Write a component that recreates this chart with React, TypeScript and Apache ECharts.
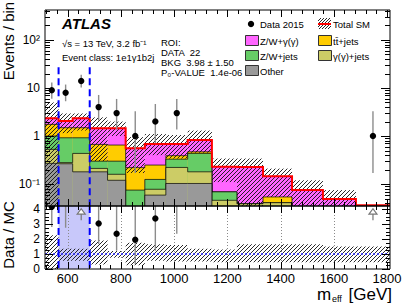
import React, { useEffect, useRef } from 'react';
import * as echarts from 'echarts';

const FONT = '"Liberation Sans", Arial, Helvetica, sans-serif';

// ---------------- data ----------------
const binEdges = [515, 566, 619, 683, 750, 818, 890, 969, 1051, 1142, 1236, 1334, 1443, 1559, 1683, 1811];
// stack components, bottom to top
const otherBkg = [0.27, 0.265, 0.18, 0.18, 0.12, 0, 0.059, 0.103, 0.103, 0, 0, 0, 0, 0, 0];
const gammaJets = [0.258, 0.015, 0.255, 0.032, 0.04, 0, 0.019, 0.119, 0.077, 0.046, 0.039, 0.041, 0, 0, 0];
const zwJets = [0.472, 0.64, 0.485, 0.088, 0.14, 0.075, 0.047, 0.108, 0.255, 0.023, 0, 0, 0, 0, 0];
const ttJets = [0.75, 0.57, 0.57, 0.37, 0.35, 0.145, 0.124, 0.06, 0.035, 0, 0, 0.013, 0, 0, 0];
const zwGamma = [0.59, 0.57, 0.85, 0.78, 0.8, 0.34, 0.431, 0.29, 0.356, 0.161, 0.189, 0.091, 0.075, 0.049, 0];
// total SM uncertainty band (main panel)
const bandHi = [5.0, 2.95, 2.95, 2.45, 2.0, 0.95, 1.1, 1.05, 1.3, 0.34, 0.34, 0.21, 0.12, 0.075, 0];
const bandLo = [0, 1.15, 1.3, 0.3, 1.0, 0.17, 0.4, 0.34, 0.45, 0.11, 0, 0.054, 0, 0, 0];
// data
const dataCounts = [9, 8, 14, 4, 3, 1, 2, 3, 0, 0, 0, 0, 0, 0, 1];
const dataErrLo = [6.0, 5.3, 10.3, 2.09, 1.37, 0.17, 0.71, 1.37, 0, 0, 0, 0, 0, 0, 0.17];
const dataErrHi = [13.0, 11.8, 18.8, 7.16, 5.92, 3.3, 4.64, 5.92, 0, 0, 0, 0, 0, 0, 3.3];
// ratio panel
const ratioVals: (number | null)[] = [4.15, 4.6, 6.0, 3.03, 2.35, 1.95, 3.37, 4.5, null, null, null, null, null, null, null];
const ratioErrLo = [2.8, 2.75, 4.4, 1.67, 1.22, 0.32, 1.22, 2.35, 0, 0, 0, 0, 0, 0, 0];
const ratioErrHi = [6, 6, 8, 5, 4.6, 5, 5, 6, 0, 0, 0, 0, 0, 0, 0];
const ratioArrowBins = [2, 14];
const ratioBandHi = [2.25, 1.35, 1.35, 1.9, 1.2, 1.75, 1.65, 1.6, 1.35, 1.3, 1.65, 1.65, 1.65, 1.5, 1.5];
const ratioBandLo = [0, 0.55, 0.55, 0.3, 0.75, 0.25, 0.55, 0.5, 0.5, 0.45, 0.45, 0.45, 0.45, 0.45, 0.45];
const roiEdges = [566, 683];
const roiLineTop = 27;
const xLabelTicks = [600, 800, 1000, 1200, 1400, 1600, 1800];

const X_MIN = 515, X_MAX = 1811;
const Y_MIN = 0.035, Y_MAX = 420;
const R_MIN = 0, R_MAX = 4.2;

const COLORS = ['#999999', '#cccc66', '#66cc66', '#ffcc00', '#ff66ff'];
const EDGE = 'rgba(0,0,0,0.7)';

function hatchLines(x0: number, x1: number, y0: number, y1: number, step: number, stroke: string, lw: number) {
  const out: any[] = [];
  if (x1 <= x0 || y1 <= y0) return out;
  const cStart = Math.ceil((x0 + y0) / step) * step;
  for (let c = cStart; c <= x1 + y1; c += step) {
    const xs = Math.max(x0, c - y1);
    const xe = Math.min(x1, c - y0);
    if (xe > xs) out.push({ type: 'line', shape: { x1: xs, y1: c - xs, x2: xe, y2: c - xe }, style: { stroke, lineWidth: lw } });
  }
  return out;
}

function stepPts(vals: number[], X: (v: number) => number, Yf: (v: number) => number) {
  const pts: number[][] = [];
  for (let i = 0; i < vals.length; i++) {
    const y = Yf(vals[i]);
    pts.push([X(binEdges[i]), y], [X(binEdges[i + 1]), y]);
  }
  return pts;
}

function xTicks() {
  const t: { v: number; major: boolean }[] = [];
  for (let v = 520; v <= X_MAX; v += 40) t.push({ v, major: v % 200 === 0 });
  return t;
}

function renderMain(params: any, api: any) {
  const cs = params.coordSys;
  const top = cs.y, bottom = cs.y + cs.height;
  const X = (v: number) => api.coord([v, 1])[0];
  const Y = (v: number) => api.coord([1000, Math.max(v, 1e-3)])[1];
  const nb = binEdges.length - 1;
  const layers = [otherBkg, gammaJets, zwJets, ttJets, zwGamma];
  const cum: number[][] = [];
  let run = new Array(nb).fill(0);
  layers.forEach((arr) => { run = run.map((r, i) => r + arr[i]); cum.push(run.slice()); });
  const ch: any[] = [];
  for (let k = layers.length - 1; k >= 0; k--) {
    for (let i = 0; i < nb; i++) {
      const v = cum[k][i];
      if (v <= 0) continue;
      const x0 = X(binEdges[i]), x1 = X(binEdges[i + 1]);
      const yt = Math.max(Y(v), top - 5);
      if (yt >= bottom) continue;
      ch.push({ type: 'rect', shape: { x: x0, y: yt, width: x1 - x0, height: bottom - yt + 2 }, style: { fill: COLORS[k] } });
    }
    if (k < layers.length - 1) {
      ch.push({ type: 'polyline', shape: { points: stepPts(cum[k], X, (v) => Math.min(Y(v), bottom + 3)) }, style: { stroke: EDGE, lineWidth: 1, fill: null } });
    }
  }
  // uncertainty hatch
  for (let i = 0; i < nb; i++) {
    if (bandHi[i] <= 0) continue;
    const x0 = X(binEdges[i]), x1 = X(binEdges[i + 1]);
    const y0 = Math.max(Y(bandHi[i]), top);
    const y1 = Math.min(Y(bandLo[i]), bottom);
    ch.push(...hatchLines(x0, x1, y0, y1, 4, '#111', 0.9));
  }
  // total SM line
  ch.push({ type: 'polyline', shape: { points: stepPts(cum[4], X, (v) => Y(Math.max(v, Y_MIN * 1.04))) }, style: { stroke: '#ff0000', lineWidth: 2, fill: null } });
  // ROI lines
  roiEdges.forEach((e) => {
    ch.push({ type: 'line', shape: { x1: X(e), y1: Y(roiLineTop), x2: X(e), y2: bottom }, style: { stroke: '#0000ff', lineWidth: 2, lineDash: [7, 4] } });
  });
  // data
  for (let i = 0; i < nb; i++) {
    if (dataCounts[i] <= 0) continue;
    const xc = X((binEdges[i] + binEdges[i + 1]) / 2);
    ch.push({ type: 'line', shape: { x1: xc, y1: Y(dataErrHi[i]), x2: xc, y2: Y(dataErrLo[i]) }, style: { stroke: '#8c8c8c', lineWidth: 1.4 } });
    ch.push({ type: 'circle', shape: { cx: xc, cy: Y(dataCounts[i]), r: 3.2 }, style: { fill: '#000' } });
  }
  return { type: 'group', children: ch };
}

function renderMainFrame(params: any, api: any) {
  const cs = params.coordSys;
  const left = cs.x, top = cs.y, right = cs.x + cs.width, bottom = cs.y + cs.height;
  const X = (v: number) => api.coord([v, 1])[0];
  const Y = (v: number) => api.coord([1000, v])[1];
  const ch: any[] = [];
  const st = { stroke: '#000', lineWidth: 1 };
  xTicks().forEach(({ v, major }) => {
    const x = Math.round(X(v)) + 0.5;
    const len = major ? 7 : 4;
    ch.push({ type: 'line', shape: { x1: x, y1: bottom, x2: x, y2: bottom - len }, style: st });
    ch.push({ type: 'line', shape: { x1: x, y1: top, x2: x, y2: top + len }, style: st });
  });
  for (let e = -2; e <= 3; e++) {
    for (let d = 1; d <= 9; d++) {
      const v = d * Math.pow(10, e);
      if (v <= Y_MIN || v >= Y_MAX) continue;
      const y = Math.round(Y(v)) + 0.5;
      const len = d === 1 ? 9 : 5;
      ch.push({ type: 'line', shape: { x1: left, y1: y, x2: left + len, y2: y }, style: st });
      ch.push({ type: 'line', shape: { x1: right, y1: y, x2: right - len, y2: y }, style: st });
    }
  }
  ch.push({ type: 'rect', shape: { x: left, y: top, width: right - left, height: bottom - top }, style: { fill: null, stroke: '#000', lineWidth: 1 } });
  return { type: 'group', children: ch };
}

function renderRatio(params: any, api: any) {
  const cs = params.coordSys;
  const left = cs.x, top = cs.y, right = cs.x + cs.width, bottom = cs.y + cs.height;
  const X = (v: number) => api.coord([v, 1])[0];
  const Y = (v: number) => api.coord([1000, v])[1];
  const nb = binEdges.length - 1;
  const ch: any[] = [];
  ch.push({ type: 'rect', shape: { x: X(roiEdges[0]), y: top, width: X(roiEdges[1]) - X(roiEdges[0]), height: bottom - top }, style: { fill: '#c8c8fa' } });
  xLabelTicks.forEach((v) => {
    if (v >= X_MAX - 20) return;
    const x = Math.round(X(v)) + 0.5;
    ch.push({ type: 'line', shape: { x1: x, y1: top, x2: x, y2: bottom }, style: { stroke: '#8a8a8a', lineWidth: 1, lineDash: [1, 2] } });
  });
  for (let i = 0; i < nb; i++) {
    const x0 = X(binEdges[i]), x1 = X(binEdges[i + 1]);
    const y0 = Math.max(Y(ratioBandHi[i]), top);
    const y1 = Math.min(Y(ratioBandLo[i]), bottom);
    ch.push(...hatchLines(x0, x1, y0, y1, 4, '#111', 0.9));
  }
  ch.push({ type: 'line', shape: { x1: left, y1: Y(1), x2: right, y2: Y(1) }, style: { stroke: '#2a2aff', lineWidth: 1.6, lineDash: [2, 2] } });
  roiEdges.forEach((e) => {
    ch.push({ type: 'line', shape: { x1: X(e), y1: top, x2: X(e), y2: bottom }, style: { stroke: '#0000ff', lineWidth: 2, lineDash: [7, 4] } });
  });
  for (let i = 0; i < nb; i++) {
    const v = ratioVals[i];
    if (v === null) continue;
    const xc = X((binEdges[i] + binEdges[i + 1]) / 2);
    if (ratioErrLo[i] < R_MAX) {
      ch.push({ type: 'line', shape: { x1: xc, y1: Y(Math.min(ratioErrHi[i], R_MAX + 0.3)), x2: xc, y2: Y(ratioErrLo[i]) }, style: { stroke: '#8c8c8c', lineWidth: 1.4 } });
    }
    if (v < R_MAX + 0.1) ch.push({ type: 'circle', shape: { cx: xc, cy: Y(v), r: 3.2 }, style: { fill: '#000' } });
  }
  ratioArrowBins.forEach((i) => {
    const xc = X((binEdges[i] + binEdges[i + 1]) / 2);
    ch.push({ type: 'line', shape: { x1: xc, y1: Y(3.25), x2: xc, y2: Y(3.66) }, style: { stroke: '#777', lineWidth: 1.2 } });
    ch.push({ type: 'polygon', shape: { points: [[xc - 4, Y(3.66)], [xc + 4, Y(3.66)], [xc, Y(4.02)]] }, style: { fill: '#fff', stroke: '#777', lineWidth: 1.2 } });
  });
  return { type: 'group', children: ch };
}

function renderRatioFrame(params: any, api: any) {
  const cs = params.coordSys;
  const left = cs.x, top = cs.y, right = cs.x + cs.width, bottom = cs.y + cs.height;
  const X = (v: number) => api.coord([v, 1])[0];
  const Y = (v: number) => api.coord([1000, v])[1];
  const ch: any[] = [];
  const st = { stroke: '#000', lineWidth: 1 };
  xTicks().forEach(({ v, major }) => {
    const x = Math.round(X(v)) + 0.5;
    const len = major ? 7 : 4;
    ch.push({ type: 'line', shape: { x1: x, y1: bottom, x2: x, y2: bottom - len }, style: st });
    ch.push({ type: 'line', shape: { x1: x, y1: top, x2: x, y2: top + len }, style: st });
  });
  for (let k = 0; k * 0.25 <= R_MAX; k++) {
    const v = k * 0.25;
    const y = Math.round(Y(v)) + 0.5;
    const len = k % 4 === 0 ? 8 : 4;
    ch.push({ type: 'line', shape: { x1: left, y1: y, x2: left + len, y2: y }, style: st });
    ch.push({ type: 'line', shape: { x1: right, y1: y, x2: right - len, y2: y }, style: st });
  }
  ch.push({ type: 'rect', shape: { x: left, y: top, width: right - left, height: bottom - top }, style: { fill: null, stroke: '#000', lineWidth: 1 } });
  return { type: 'group', children: ch };
}

const txt = (text: string, x: number, y: number, size: number, extra: any = {}) => ({
  type: 'text', x, y, z: 100,
  style: { text, fill: '#000', font: `${extra.weight || 'normal'} ${size}px ${FONT}`, textAlign: extra.align || 'left', textVerticalAlign: 'middle', ...(extra.style || {}) },
  ...(extra.el || {}),
});

const legendBoxes = [
  { label: 'Z/W+γ(γ)', color: '#ff66ff', x: 245, y: 35 },
  { label: 'tt̄+jets', color: '#ffcc00', x: 318, y: 35 },
  { label: 'Z/W+jets', color: '#66cc66', x: 245, y: 50 },
  { label: 'γ(γ)+jets', color: '#cccc66', x: 318, y: 50 },
  { label: 'Other', color: '#999999', x: 245, y: 65 },
];

function buildGraphic() {
  const g: any[] = [];
  g.push({ type: 'text', x: 62, y: 23, z: 100, style: { text: 'ATLAS', fill: '#000', font: `italic bold 15px ${FONT}`, textAlign: 'left', textVerticalAlign: 'middle' } });
  g.push(txt('√s = 13 TeV, 3.2 fb⁻¹', 62, 43, 9.5));
  g.push(txt('Event class: 1e1γ1b2j', 62, 57, 9.5));
  g.push(txt('ROI:', 161, 42, 9.5));
  g.push(txt('DATA  22', 161, 52, 9.5));
  g.push(txt('BKG  3.98 ± 1.50', 161, 62, 9.5));
  g.push(txt('P₀-VALUE  1.4e-06', 161, 72, 9.5));
  // legend
  g.push({ type: 'circle', z: 100, shape: { cx: 251, cy: 24, r: 3.2 }, style: { fill: '#000' } });
  g.push(txt('Data 2015', 260, 24, 9.5));
  const hl = hatchLines(318, 331, 18, 29, 3, '#111', 0.9).map((h) => ({ ...h, z: 100 }));
  g.push(...hl);
  g.push({ type: 'line', z: 101, shape: { x1: 318, y1: 24, x2: 331, y2: 24 }, style: { stroke: '#ff0000', lineWidth: 2 } });
  g.push(txt('Total SM', 333, 24, 9.5));
  legendBoxes.forEach((b) => {
    g.push({ type: 'rect', z: 100, shape: { x: b.x + 0.5, y: b.y + 0.5, width: 13, height: 10 }, style: { fill: b.color, stroke: '#333', lineWidth: 1 } });
    g.push(txt(b.label, b.x + 15, b.y + 6, 9.5));
  });
  // axis titles
  g.push({ type: 'text', x: 8, y: 41, rotation: Math.PI / 2, z: 100, style: { text: 'Events / bin', fill: '#000', font: `15px ${FONT}`, textAlign: 'center', textVerticalAlign: 'middle' } });
  g.push({ type: 'text', x: 8, y: 235, rotation: Math.PI / 2, z: 100, style: { text: 'Data / MC', fill: '#000', font: `15px ${FONT}`, textAlign: 'center', textVerticalAlign: 'middle' } });
  g.push(txt('m', 317, 294, 17));
  g.push(txt('eff', 332, 299, 9));
  g.push(txt('[GeV]', 392, 294, 17, { align: 'right' }));
  return g;
}

const logLabels: Record<string, string> = { '-1': '10⁻¹', '0': '1', '1': '10', '2': '10²' };

const option: any = {
  animation: false,
  backgroundColor: '#fff',
  textStyle: { fontFamily: FONT },
  grid: [
    { left: 45, top: 10, width: 345, height: 196 },
    { left: 45, top: 206, width: 345, height: 63 },
  ],
  xAxis: [
    { gridIndex: 0, type: 'value', min: X_MIN, max: X_MAX, splitNumber: 6, axisLine: { show: false }, axisTick: { show: false }, axisLabel: { show: false }, splitLine: { show: false } },
    {
      gridIndex: 1, type: 'value', min: X_MIN, max: X_MAX, splitNumber: 6, axisLine: { show: false }, axisTick: { show: false }, splitLine: { show: false },
      axisLabel: { margin: 3, fontSize: 13, color: '#000', fontFamily: FONT, showMinLabel: false, showMaxLabel: false, formatter: (v: number) => (xLabelTicks.indexOf(Math.round(v)) >= 0 && Math.abs(v - Math.round(v)) < 1e-6 ? String(Math.round(v)) : '') },
    },
  ],
  yAxis: [
    {
      gridIndex: 0, type: 'log', logBase: 10, min: Y_MIN, max: Y_MAX, axisLine: { show: false }, axisTick: { show: false }, splitLine: { show: false },
      axisLabel: {
        margin: 5, fontSize: 12, color: '#000', fontFamily: FONT,
        formatter: (v: number) => { const e = Math.log10(v); const r = Math.round(e); if (Math.abs(e - r) > 1e-6) return ''; return logLabels[String(r)] || ''; },
      },
    },
    {
      gridIndex: 1, type: 'value', min: R_MIN, max: R_MAX, interval: 1, axisLine: { show: false }, axisTick: { show: false }, splitLine: { show: false },
      axisLabel: { margin: 5, fontSize: 12, color: '#000', fontFamily: FONT, formatter: (v: number) => (Math.abs(v - Math.round(v)) < 1e-6 ? String(Math.round(v)) : '') },
    },
  ],
  series: [
    { type: 'custom', xAxisIndex: 0, yAxisIndex: 0, data: [[1000, 1]], renderItem: renderMain, clip: true, z: 2, silent: true },
    { type: 'custom', xAxisIndex: 0, yAxisIndex: 0, data: [[1000, 1]], renderItem: renderMainFrame, clip: false, z: 5, silent: true },
    { type: 'custom', xAxisIndex: 1, yAxisIndex: 1, data: [[1000, 1]], renderItem: renderRatio, clip: true, z: 2, silent: true },
    { type: 'custom', xAxisIndex: 1, yAxisIndex: 1, data: [[1000, 1]], renderItem: renderRatioFrame, clip: false, z: 5, silent: true },
  ],
  graphic: buildGraphic(),
};

export default function App() {
  const ref = useRef<HTMLDivElement>(null);
  useEffect(() => {
    const chart = echarts.init(ref.current!, null, { renderer: 'svg' });
    chart.setOption(option);
    return () => chart.dispose();
  }, []);
  return <div ref={ref} style={{ position: 'fixed', left: 0, top: 0, width: 411, height: 308 }} />;
}
